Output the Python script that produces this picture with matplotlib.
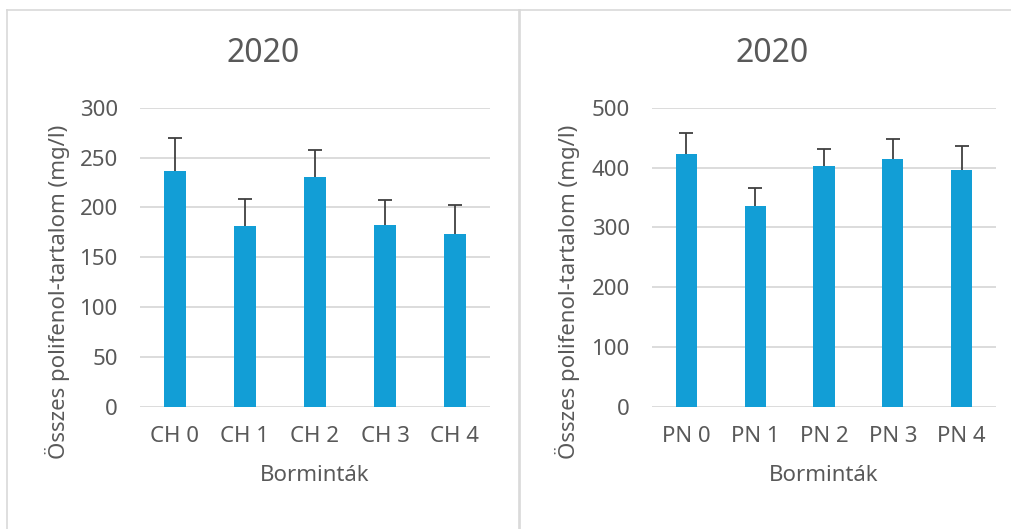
import matplotlib
matplotlib.use("Agg")
import matplotlib.pyplot as plt
from matplotlib.lines import Line2D

plt.rcParams["font.family"] = ["Noto Sans", "DejaVu Sans"]

# data
ch_labels = ["CH 0", "CH 1", "CH 2", "CH 3", "CH 4"]
ch_values = [236.5, 181.5, 230.5, 182.5, 173]
ch_err = [33.5, 26.5, 27.5, 24.5, 29]
pn_labels = ["PN 0", "PN 1", "PN 2", "PN 3", "PN 4"]
pn_values = [422, 336, 402, 414, 395]
pn_err = [36, 30, 29, 34, 41]

BAR = "#129ed6"
GRID = "#d9d9d9"
TXT = "#595959"
W, H = 1012, 529

fig = plt.figure(figsize=(W / 100, H / 100), dpi=100)
fig.patch.set_facecolor("white")

# panel borders
def fx(px): return px / W
def fy(py): return 1 - py / H
for xs, ys in [([7, 7], [10, 540]), ([7, 519], [10, 10]), ([519, 519], [10, 540]),
               ([520, 520], [10, 540]), ([520, 1020], [10, 10])]:
    fig.add_artist(Line2D([fx(x) for x in xs], [fy(y) for y in ys], color=GRID, lw=1.2))

def panel(x0, x1, labels, values, err, ymax, step, title_x, ylab_x):
    ax = fig.add_axes([fx(x0), fy(406.7), fx(x1) - fx(x0), fy(107.7) - fy(406.7)])
    pos = list(range(len(labels)))
    tops = [v + e for v, e in zip(values, err)]
    ax.bar(pos, values, width=0.31, color=BAR, zorder=3)
    # one-sided error bars: stem + top cap only
    ax.vlines(pos, values, tops, color="#404040", lw=1.3, zorder=4)
    ax.plot(pos, tops, ls="none", marker="_", markersize=10, mew=1.3, color="#404040", zorder=4)
    ax.set_xlim(-0.5, len(labels) - 0.5)
    ax.set_ylim(0, ymax)
    ax.set_yticks(range(0, ymax + 1, step))
    ax.set_xticks(pos)
    ax.set_xticklabels(labels)
    ax.grid(axis="y", color=GRID, lw=1.3, zorder=0)
    for s in ax.spines.values():
        s.set_visible(False)
    ax.tick_params(length=0, colors=TXT, labelsize=16)
    ax.tick_params(axis="y", pad=16)
    ax.tick_params(axis="x", pad=14)
    ax.set_xlabel("Borminták", color=TXT, fontsize=16, labelpad=13)
    fig.text(fx(title_x), fy(53), "2020", ha="center", va="center", fontsize=23, color=TXT)
    fig.text(fx(ylab_x), fy(292), "Összes polifenol-tartalom (mg/l)", rotation=90,
             ha="center", va="center", fontsize=16, color=TXT)
    return ax

panel(140, 490, ch_labels, ch_values, ch_err, 300, 50, 263, 58)
panel(652, 996, pn_labels, pn_values, pn_err, 500, 100, 772, 568)

fig.savefig("out.png", dpi=100)
